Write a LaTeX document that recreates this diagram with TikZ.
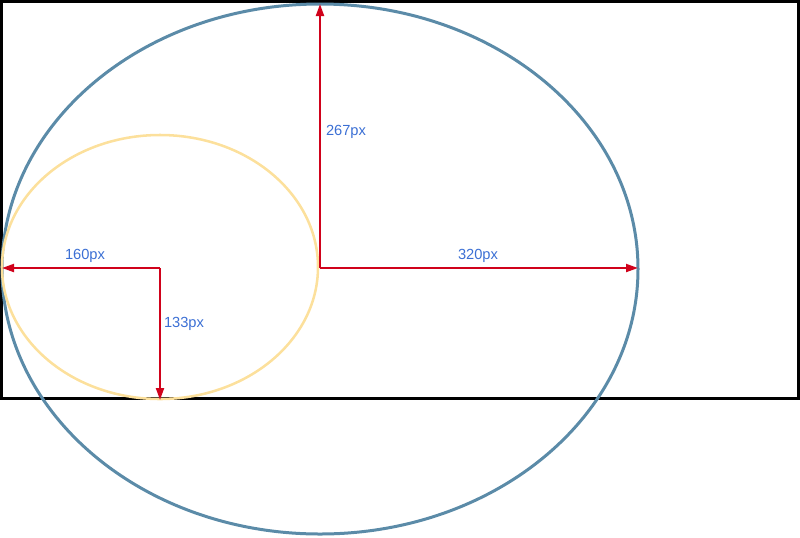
\documentclass[tikz,border=0pt]{standalone}
\usepackage{fontspec}
\setmainfont{Liberation Sans}
\usetikzlibrary{arrows.meta}
\definecolor{outerblue}{HTML}{5B8BA8}
\definecolor{innergold}{HTML}{FCE09C}
\definecolor{arrowred}{HTML}{D0021B}
\definecolor{labelblue}{HTML}{3B6FD4}
\tikzset{
  dimarrow/.style={draw=arrowred, line width=1.5pt, -{Triangle[length=9pt,width=6pt]}},
  dimlabel/.style={text=labelblue, font=\fontsize{11}{13}\selectfont, inner sep=0pt}
}
\begin{document}
\begin{tikzpicture}[x=0.75pt,y=-0.75pt]
\useasboundingbox (0,0) rectangle (800,537);
\draw[line width=2.25pt] (1.5,1.5) rectangle (798.5,398.5);
% ellipses
\draw[outerblue, line width=2.25pt] (320,269) ellipse (318 and 265);
\draw[innergold, line width=1.9pt] (160,267) ellipse (158 and 132);
% centres and ends
\coordinate (bigc) at (320,268);
\coordinate (bigtop) at (320,4);
\coordinate (bigright) at (638,268);
\coordinate (smallc) at (160,268);
\coordinate (smallleft) at (2,268);
\coordinate (smallbottom) at (160,400);
\draw[dimarrow] (bigc) -- (bigtop);
\draw[dimarrow] (bigc) -- (bigright);
\draw[dimarrow] (smallc) -- (smallleft);
\draw[dimarrow] (smallc) -- (smallbottom);
% labels
\node[dimlabel] (toplabel) at (346,132) {267px};
\node[dimlabel] (rightlabel) at (478,256) {320px};
\node[dimlabel] (leftlabel) at (85,256) {160px};
\node[dimlabel] (bottomlabel) at (184,324) {133px};
\end{tikzpicture}
\end{document}
